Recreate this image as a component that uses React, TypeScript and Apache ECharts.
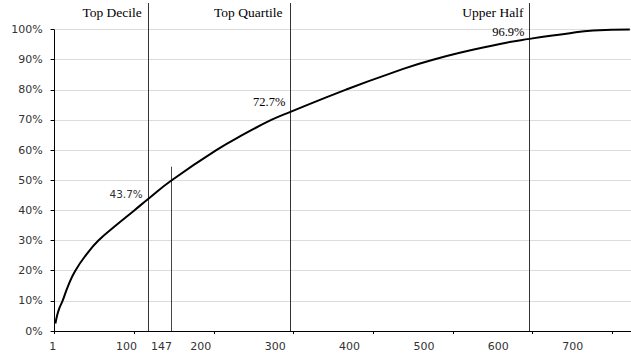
import React, { useEffect, useRef } from "react";
import * as echarts from "echarts";

// Cumulative curve (rank → cumulative share, %)
const rankValues = [1, 3, 6, 10, 17, 26, 40, 55, 76, 100, 117, 147, 203, 240, 272, 296, 365, 420, 475, 559, 596, 640, 676, 722];
const cumulativeShare = [2.5, 5, 7.6, 10, 15, 20, 25.4, 30, 34.8, 40, 43.7, 50, 60, 65.6, 70, 72.7, 80, 85.3, 90, 95.2, 96.9, 98.5, 99.7, 100];

// Threshold lines
const thresholdNames = ["Top Decile", "Top Quartile", "Upper Half"];
const thresholdRanks = [117, 296, 596];
const thresholdShares = ["43.7%", "72.7%", "96.9%"];
const thresholdShareY = [45.4, 76.0, 99.2];
const medianRank = 147;
const medianLineTop = 54.5;

// Axes
const yTicks = [0, 10, 20, 30, 40, 50, 60, 70, 80, 90, 100];
const xTicks = [0, 100, 200, 300, 400, 500, 600, 700];
const xLabelValues = [1, 100, 147, 200, 300, 400, 500, 600, 700];
const xMax = 723.5;
const xLabelMax = 778.4;
const yMax = 108.8;
const thresholdLabelY = 105.8;

export default function App() {
  const ref = useRef<HTMLDivElement>(null);
  useEffect(() => {
    if (!ref.current) return;
    const chart = echarts.init(ref.current, null, { renderer: "svg" });
    const sans = "DejaVu Sans";
    const serif = "Liberation Serif";
    const gridLines = yTicks.filter((v) => v > 0).map((v) => ({
      yAxis: v,
      lineStyle: { color: "#dcdcdc", width: 1, type: "solid" },
    }));
    const thresholdLines = thresholdRanks.map((r) => ({
      xAxis: r,
      lineStyle: { color: "#333", width: 1, type: "solid" },
    }));
    const labelPoints: any[] = [];
    thresholdRanks.forEach((r, i) => {
      labelPoints.push({
        name: thresholdNames[i],
        coord: [r, thresholdLabelY],
        label: {
          show: true,
          position: "left",
          distance: i === 1 ? 8 : 6,
          formatter: "{b}",
          fontFamily: serif,
          fontSize: 13.5,
          color: "#000",
        },
      });
      labelPoints.push({
        name: thresholdShares[i],
        coord: [r, thresholdShareY[i]],
        label: {
          show: true,
          position: "left",
          distance: 5,
          formatter: "{b}",
          fontFamily: i === 0 ? sans : serif,
          fontSize: i === 0 ? 10.5 : 12.5,
          color: i === 0 ? "#333" : "#000",
        },
      });
    });
    chart.setOption({
      animation: false,
      grid: [
        { left: 54.6, right: 0, top: 3, bottom: 26, containLabel: false },
        { left: 52.1, right: 0, top: 3, bottom: 26, containLabel: false },
      ],
      xAxis: [
        {
          type: "value",
          gridIndex: 0,
          min: 0,
          max: xMax,
          interval: 100,
          axisLine: { show: true, lineStyle: { color: "#000", width: 1 } },
          axisTick: { show: true, length: 3, customValues: xTicks, lineStyle: { color: "#000" } },
          axisLabel: { show: false },
          splitLine: { show: false },
        },
        {
          type: "value",
          gridIndex: 1,
          min: 0,
          max: xLabelMax,
          axisLine: { show: false },
          axisTick: { show: false },
          splitLine: { show: false },
          axisLabel: {
            show: true,
            customValues: xLabelValues,
            margin: 10,
            fontFamily: sans,
            fontSize: 11,
            color: "#333",
          },
        },
      ],
      yAxis: [
        {
          type: "value",
          gridIndex: 0,
          min: 0,
          max: yMax,
          interval: 10,
          axisLine: { show: false },
          axisTick: { show: true, length: 4, customValues: yTicks, lineStyle: { color: "#000" } },
          axisLabel: {
            customValues: yTicks,
            margin: 12,
            fontFamily: sans,
            fontSize: 11,
            color: "#333",
            formatter: (v: number) => (v <= 100 ? `${v}%` : ""),
          },
          splitLine: { show: false },
        },
        { type: "value", gridIndex: 1, min: 0, max: 1, show: false },
      ],
      series: [
        {
          type: "line",
          xAxisIndex: 0,
          yAxisIndex: 0,
          data: rankValues.map((r, i) => [r, cumulativeShare[i]]),
          smooth: 0.5,
          showSymbol: false,
          symbol: "none",
          lineStyle: { color: "#000", width: 2 },
          z: 5,
          markLine: {
            silent: true,
            symbol: "none",
            label: { show: false },
            animation: false,
            data: [
              ...gridLines,
              ...thresholdLines,
              [
                { coord: [medianRank, 0], lineStyle: { color: "#444", width: 1, type: "solid" } },
                { coord: [medianRank, medianLineTop] },
              ],
              [
                { coord: [0, 0], lineStyle: { color: "#000", width: 1, type: "solid" } },
                { coord: [0, 100] },
              ],
            ],
          },
          markPoint: {
            silent: true,
            symbol: "circle",
            symbolSize: 0,
            animation: false,
            data: labelPoints,
          },
        },
      ],
    });
    return () => chart.dispose();
  }, []);
  return (
    <div
      ref={ref}
      style={{ position: "absolute", left: 0, top: 0, width: 631, height: 357, background: "#fff" }}
    />
  );
}
